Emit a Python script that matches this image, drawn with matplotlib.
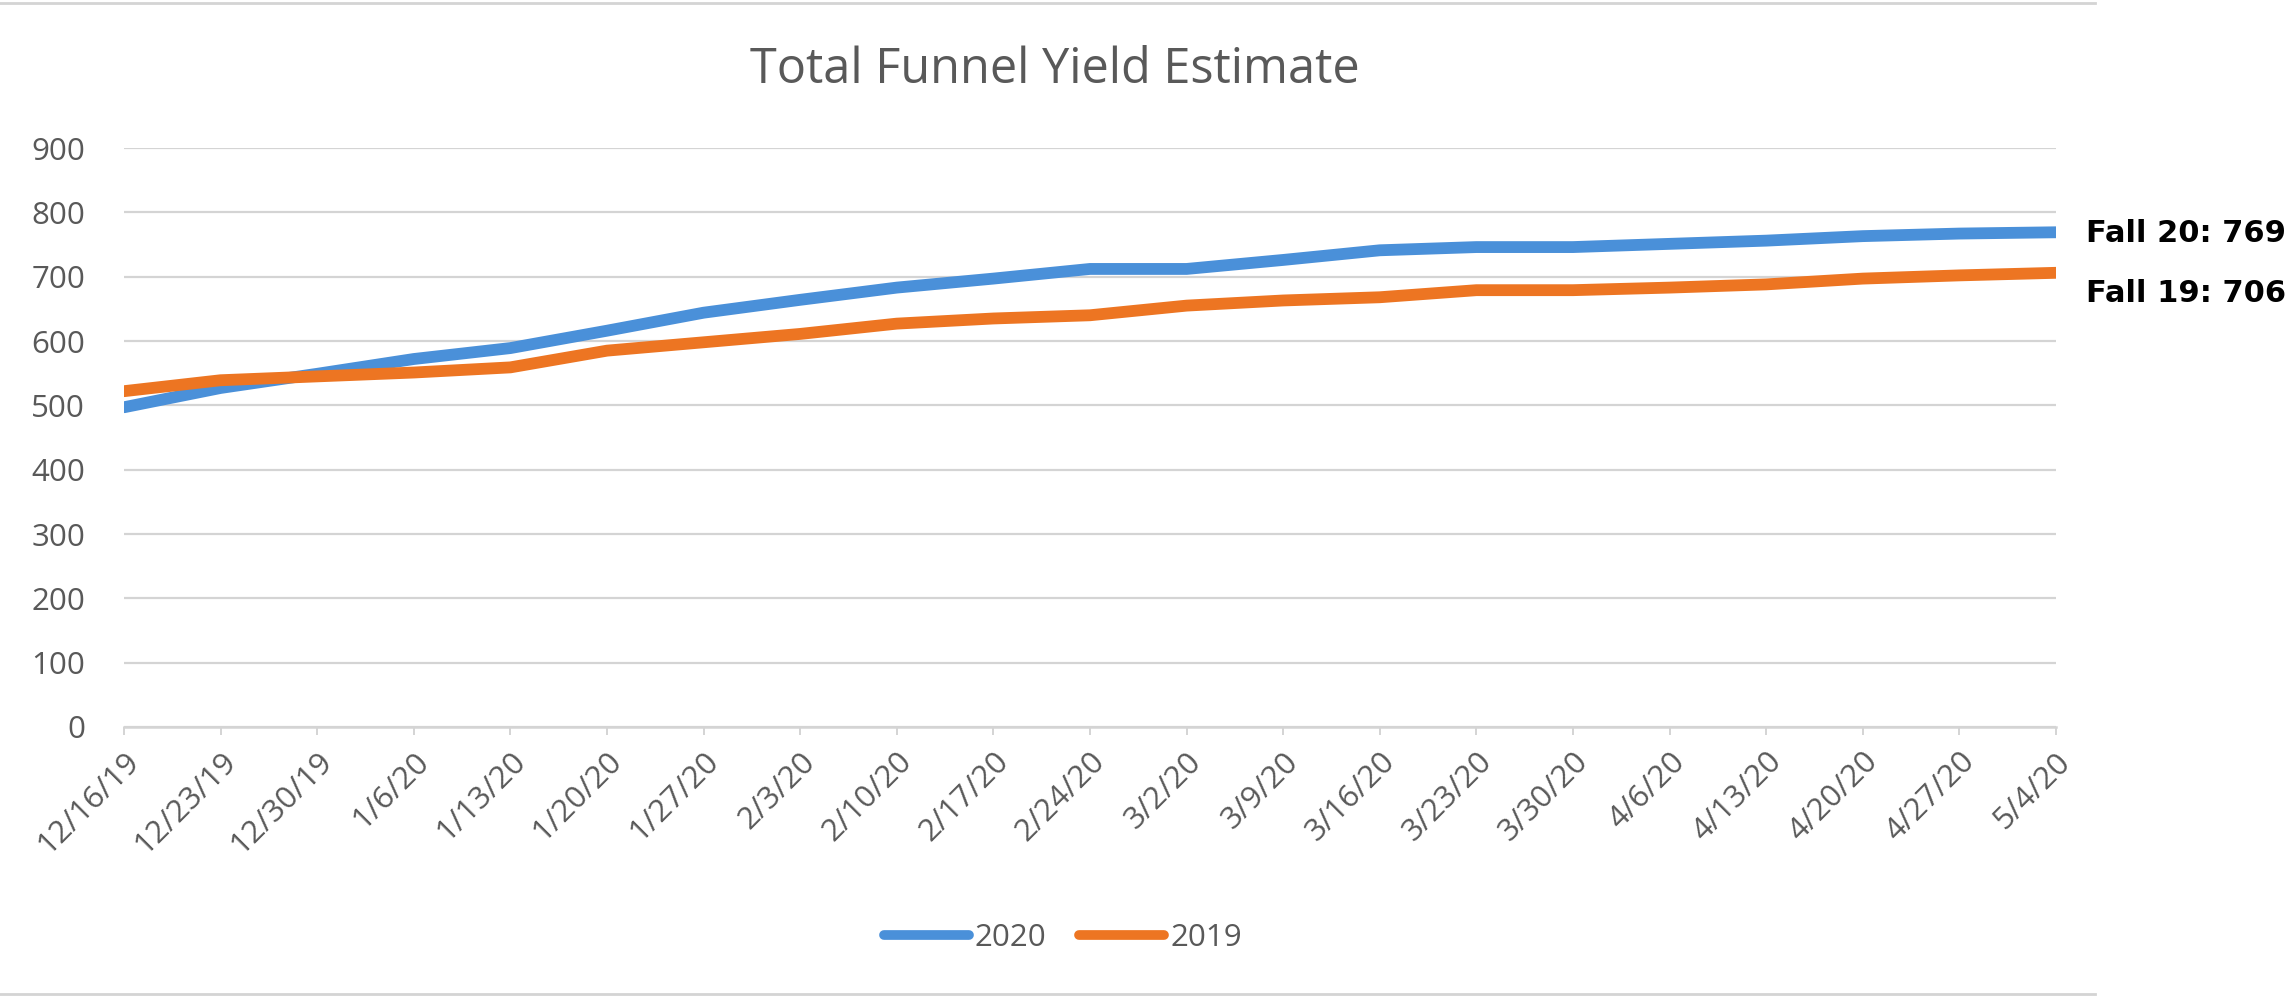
import numpy as np
import matplotlib
matplotlib.use('Agg')
import matplotlib.pyplot as plt
from matplotlib.lines import Line2D

# weekly funnel yield estimate
dates = ['12/16/19', '12/23/19', '12/30/19', '1/6/20', '1/13/20', '1/20/20', '1/27/20',
         '2/3/20', '2/10/20', '2/17/20', '2/24/20', '3/2/20', '3/9/20', '3/16/20',
         '3/23/20', '3/30/20', '4/6/20', '4/13/20', '4/20/20', '4/27/20', '5/4/20']
fy2020 = [497, 527, 549, 572, 589, 616, 644, 664, 683, 697, 712, 712, 726, 741,
          746, 746, 751, 756, 763, 767, 769]
fy2019 = [522, 539, 545, 551, 559, 585, 598, 611, 627, 635, 640, 655, 663, 668,
          679, 679, 683, 688, 697, 702, 706]
yticks = [0, 100, 200, 300, 400, 500, 600, 700, 800, 900]

blue = '#4a90d9'
orange = '#ed7522'
grey_txt = '#595959'
grid_c = '#d4d4d4'

W, H = 2289, 997
fig = plt.figure(figsize=(W/100, H/100), dpi=100)
ax = fig.add_axes([124/W, 1-727/H, (2056-124)/W, (727-148)/H])

x = np.arange(len(dates))
ax.plot(x, fy2020, color=blue, lw=8.5, solid_capstyle='round', label='2020', zorder=3)
ax.plot(x, fy2019, color=orange, lw=8.5, solid_capstyle='round', label='2019', zorder=3)

ax.set_xlim(0, len(dates)-1)
ax.set_ylim(0, 900)
ax.set_yticks(yticks)
ax.set_xticks(x)
ax.set_xticklabels(dates, rotation=45, ha='right', va='top', rotation_mode='anchor')

for lab in ax.get_xticklabels() + ax.get_yticklabels():
    lab.set_fontfamily('Open Sans')
    lab.set_fontsize(22.5)
    lab.set_color(grey_txt)

ax.grid(axis='y', color=grid_c, lw=1.6, zorder=0)
ax.set_axisbelow(True)
for s in ['top', 'right', 'left']:
    ax.spines[s].set_visible(False)
ax.spines['bottom'].set_color(grid_c)
ax.spines['bottom'].set_linewidth(1.8)
ax.tick_params(axis='y', length=0, pad=28)
ax.tick_params(axis='x', length=6, width=1.4, color=grid_c, direction='out', pad=8)

fig.text(1055/W, 1-83/H, 'Total Funnel Yield Estimate', ha='center', va='baseline',
         fontsize=35, color=grey_txt, family='Open Sans')

leg = fig.legend(loc='center', bbox_to_anchor=(1063/W, 1-938/H), ncol=2, frameon=False,
                 handlelength=2.7, handletextpad=0.2, columnspacing=1.05,
                 prop={'family': 'Open Sans', 'size': 22.5})
for t in leg.get_texts():
    t.set_color(grey_txt)
for h in leg.get_lines():
    h.set_linewidth(7)

fig.text(2086/W, 1-234/H, 'Fall 20: 769', ha='left', va='center', fontsize=22,
         fontweight='bold', family='DejaVu Sans', color='black')
fig.text(2086/W, 1-294/H, 'Fall 19: 706', ha='left', va='center', fontsize=22,
         fontweight='bold', family='DejaVu Sans', color='black')

# faint chart-area border lines top and bottom
fig.add_artist(Line2D([0, 2095/W], [1-3/H, 1-3/H], color=grid_c, lw=2))
fig.add_artist(Line2D([0, 2095/W], [1-994/H, 1-994/H], color=grid_c, lw=2))

fig.savefig('out.png', dpi=100)
